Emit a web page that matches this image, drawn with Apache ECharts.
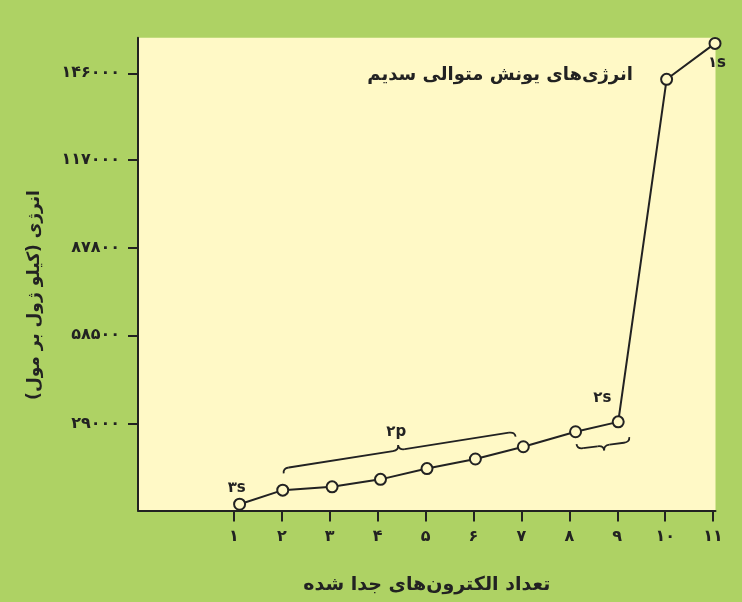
<!DOCTYPE html>
<html><head><meta charset="utf-8">
<script src="https://cdn.jsdelivr.net/npm/echarts@6/dist/echarts.min.js"></script>
<style>html,body{margin:0;padding:0;background:#aed264;} #c{width:742px;height:602px;}</style>
</head><body><div id="c"></div>
<script>
// Data
const electronsRemoved = [1.12, 2.02, 3.05, 4.06, 5.03, 6.04, 7.04, 8.13, 9.02, 10.03, 11.04];
const energies = [2100, 6800, 7900, 10400, 14000, 17200, 21300, 26300, 29600, 144000, 156000];
const xTickValues = [1, 2, 3, 4, 5, 6, 7, 8, 9, 10, 11];
const yTickValues = [29000, 58500, 87800, 117000, 146000];
const shellLabels = ['۳s', '۲p', '۲s', '۱s'];
const shellLabelX = [1.06, 4.39, 8.69, 11.08];
const shellLabelY = [7500, 26200, 37700, 149300];
const braceStartX = [2.04, 8.15];
const braceStartY = [12400, 22200];
const braceEndX = [6.88, 9.25];
const braceEndY = [24640, 24540];
const braceSide = [1, -1]; // 1: tip up, -1: tip down

const titleText = 'انرژی\u200Cهای یونش متوالی سدیم';
const xName = 'تعداد الکترون\u200Cهای جدا شده';
const yName = '\u200Fانرژی (کیلو ژول بر مول)\u200F';

const FONT = 'DejaVu Sans';
const INK = '#222';
const toFa = v => String(v).replace(/\d/g, d => '۰۱۲۳۴۵۶۷۸۹'[d]);

const chart = echarts.init(document.getElementById('c'));
chart.setOption({
  animation: false,
  backgroundColor: '#aed264',
  grid: { left: 138, right: 26.5, top: 37.7, bottom: 91.5, show: true, backgroundColor: '#fff9c6', borderWidth: 0 },
  graphic: [
    { type: 'text', x: 633, y: 75, style: { text: titleText, fill: INK, font: 'bold 18px "' + FONT + '"', align: 'right', verticalAlign: 'middle' } },
    { type: 'text', x: 35, y: 295, rotation: Math.PI / 2, style: { text: yName, fill: INK, font: 'bold 17px "' + FONT + '"', align: 'center', verticalAlign: 'middle' } }
  ],
  xAxis: {
    type: 'value', min: -1, max: 11.05,
    name: xName, nameLocation: 'middle', nameGap: 65,
    nameTextStyle: { color: INK, fontFamily: FONT, fontWeight: 'bold', fontSize: 19 },
    axisLine: { show: true, onZero: false, lineStyle: { color: INK, width: 2 } },
    axisTick: { show: true, customValues: xTickValues, length: 11, lineStyle: { color: INK, width: 2 } },
    axisLabel: { customValues: xTickValues, formatter: v => toFa(v), margin: 18, color: INK, fontFamily: FONT, fontWeight: 'bold', fontSize: 16 },
    splitLine: { show: false }
  },
  yAxis: {
    type: 'value', min: 0, max: 157900,
    axisLine: { show: true, onZero: false, lineStyle: { color: INK, width: 2 } },
    axisTick: { show: true, customValues: yTickValues, length: 10, lineStyle: { color: INK, width: 2 } },
    axisLabel: { customValues: yTickValues, formatter: v => toFa(v), margin: 18, color: INK, fontFamily: FONT, fontWeight: 'bold', fontSize: 16 },
    splitLine: { show: false }
  },
  series: [
    {
      type: 'custom', coordinateSystem: 'cartesian2d', silent: true, z: 3,
      data: braceStartX.map((x, i) => [x, braceStartY[i], braceEndX[i], braceEndY[i], braceSide[i]]),
      encode: { x: [0, 2], y: [1, 3] },
      renderItem(params, api) {
        const p1 = api.coord([api.value(0), api.value(1)]);
        const p2 = api.coord([api.value(2), api.value(3)]);
        const side = api.value(4);
        const dx = p2[0] - p1[0], dy = p2[1] - p1[1];
        const L = Math.hypot(dx, dy);
        const u = [dx / L, dy / L];
        let n = [u[1], -u[0]];
        if (side < 0) n = [-n[0], -n[1]];
        const h = 5, r = 6;
        const P = (t, s) => [p1[0] + u[0] * t + n[0] * s, p1[1] + u[1] * t + n[1] * s];
        const style = { stroke: INK, lineWidth: 1.8, fill: null };
        const curve = (a, c, b) => ({ type: 'bezierCurve', shape: { x1: a[0], y1: a[1], cpx1: c[0], cpy1: c[1], x2: b[0], y2: b[1] }, style });
        const line = (a, b) => ({ type: 'line', shape: { x1: a[0], y1: a[1], x2: b[0], y2: b[1] }, style });
        return { type: 'group', children: [
          curve(P(0, 0), P(0, h), P(r, h)),
          line(P(r, h), P(L / 2 - r, h)),
          curve(P(L / 2 - r, h), P(L / 2, h), P(L / 2, 2 * h)),
          curve(P(L / 2, 2 * h), P(L / 2, h), P(L / 2 + r, h)),
          line(P(L / 2 + r, h), P(L - r, h)),
          curve(P(L - r, h), P(L, h), P(L, 0))
        ] };
      }
    },
    {
      type: 'custom', coordinateSystem: 'cartesian2d', silent: true, z: 4,
      data: shellLabelX.map((x, i) => [x, shellLabelY[i]]),
      renderItem(params, api) {
        const p = api.coord([api.value(0), api.value(1)]);
        return { type: 'text', x: p[0], y: p[1], style: { text: shellLabels[params.dataIndex], fill: INK, font: 'bold 15px "' + FONT + '"', align: 'center', verticalAlign: 'middle' } };
      }
    },
    {
      type: 'line', clip: false, z: 5,
      data: electronsRemoved.map((x, i) => [x, energies[i]]),
      symbol: 'circle', symbolSize: 11,
      itemStyle: { color: '#fff9c6', borderColor: INK, borderWidth: 2 },
      lineStyle: { color: INK, width: 2 }
    }
  ]
});
</script>
</body></html>
